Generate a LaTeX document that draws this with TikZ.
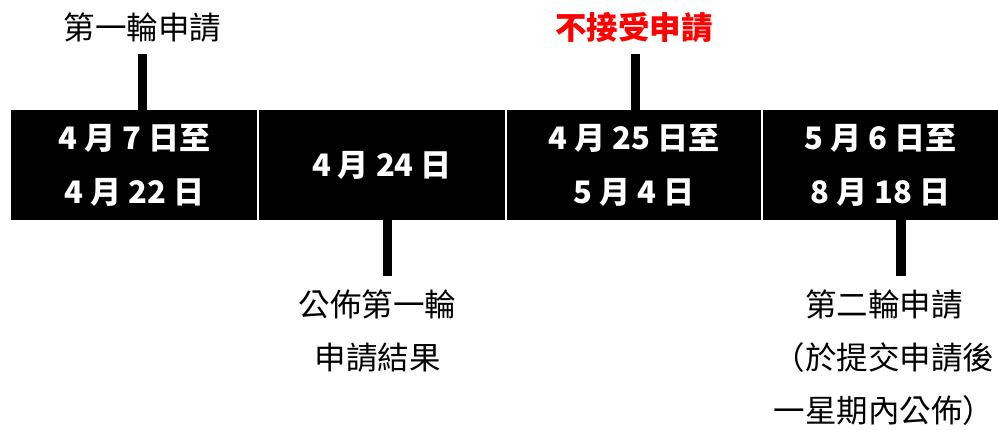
\documentclass[tikz,border=0pt]{standalone}
\usepackage{fontspec}
\setmainfont{Noto Sans CJK TC}
\definecolor{closedred}{HTML}{FF0000}

\begin{document}
\begin{tikzpicture}[x=1pt, y=1pt,
  period/.style={fill=black, minimum height=110pt, inner sep=0pt, text=white,
    font=\fontsize{31}{54}\selectfont\bfseries, align=center},
  note/.style={font=\fontsize{31.5}{53}\selectfont, align=center, inner sep=0pt},
  tick/.style={line width=9.5pt, black}
]
  \useasboundingbox (0,0) rectangle (998,430);

  % Periods on the bar
  \node[period, minimum width=246.3pt] (p1) at (134.15, 265) {4 月 7 日至\\4 月 22 日};
  \node[period, minimum width=246pt] (p2) at (382, 265) {4 月 24 日};
  \node[period, minimum width=253.4pt] (p3) at (634, 265) {4 月 25 日至\\5 月 4 日};
  \node[period, minimum width=235.3pt] (p4) at (880.35, 265) {5 月 6 日至\\8 月 18 日};

  % Labels above
  \node[note] (lab1) at (142.5, 402) {第一輪申請};
  \node[note, text=closedred, font=\fontsize{31.5}{53}\selectfont\bfseries] (lab3) at (634, 402) {不接受申請};
  \coordinate (u1) at (142.3, 376);
  \coordinate (u3) at (635.5, 376);
  \draw[tick] (u1) -- (u1 |- p1.north);
  \draw[tick] (u3) -- (u3 |- p3.north);

  % Labels below
  \node[note] (lab2) at (377.5, 98.5) {公佈第一輪\\申請結果};
  \node[note] (lab4) at (884, 72) {第二輪申請\\（於提交申請後\\一星期內公佈）};
  \coordinate (d2) at (387.7, 154);
  \coordinate (d4) at (901, 154);
  \draw[tick] (p2.south -| d2) -- (d2);
  \draw[tick] (p4.south -| d4) -- (d4);
\end{tikzpicture}
\end{document}
